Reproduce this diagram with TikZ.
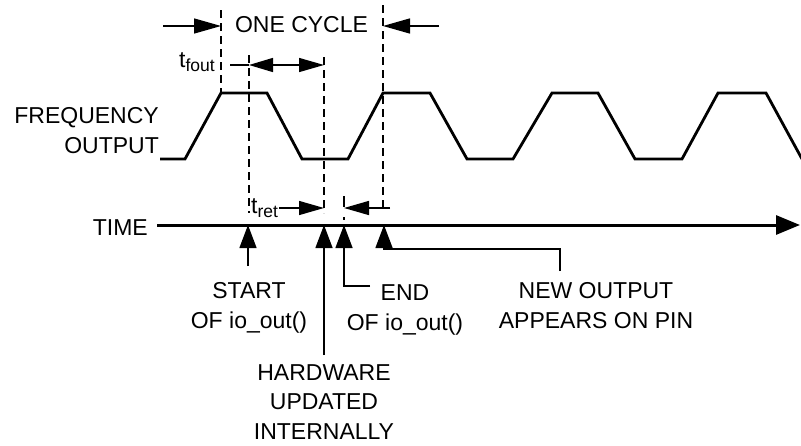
\documentclass[tikz,border=0pt]{standalone}
\usepackage{fontspec}
\setmainfont{Liberation Sans}
\usetikzlibrary{arrows.meta}
\begin{document}
\begin{tikzpicture}[x=1pt,y=-1pt,
  wave/.style={line width=2.8pt, line join=miter},
  axisline/.style={line width=3pt, -{Triangle[length=24pt,width=19pt]}},
  thin/.style={line width=1.4pt},
  dashline/.style={line width=1.3pt, dash pattern=on 8pt off 5pt},
  tipbig/.style={thin, -{Triangle[length=27pt,width=15pt]}},
  tipmid/.style={thin, -{Triangle[length=25pt,width=14pt]}},
  tipup/.style={thin, -{Triangle[length=23pt,width=17pt]}},
  lbl/.style={font=\fontsize{23}{30.5}\selectfont, inner sep=0pt, align=center},
  sub/.style={font=\fontsize{23}{23}\selectfont, inner sep=0pt}]
\useasboundingbox (0,0) rectangle (801,445);

% waveform
\draw[wave] (160,159) -- (185,159) -- (221,93) -- (267,93) -- (302,159) -- (348,159)
  -- (383,93) -- (430,93) -- (467,159) -- (513,159) -- (552,93) -- (598,93)
  -- (635,159) -- (682,159) -- (718,93) -- (766,93) -- (802,159);

% dashed reference lines
\draw[dashline] (221,10) -- (221,93);
\draw[dashline] (249,55) -- (249,213);
\draw[dashline] (324,57) -- (324,213);
\draw[dashline] (383,5) -- (383,208);
\draw[line width=1.3pt, dash pattern=on 11pt off 10pt on 3pt] (344,196) -- (344,222);

% time axis
\node[lbl, anchor=base east] (time) at (148,235) {TIME};
\coordinate (axend) at (800,225);
\draw[axisline] (time.east |- 0,225) ++(9,0) -- (axend);

% axis marks
\coordinate (tStart) at (248,225);
\coordinate (tHw) at (324,225);
\coordinate (tEnd) at (344,225);
\coordinate (tNew) at (384,225);

% labels
\node[lbl, anchor=north east, align=right] (freq) at (159,107) {FREQUENCY\\OUTPUT};
\node[lbl, anchor=base] (cycle) at (301.5,32) {ONE CYCLE};
\node[sub, anchor=base west] (tfout) at (179,67) {t\raisebox{-4pt}{\fontsize{17.5}{17.5}\selectfont fout}};
\node[sub, anchor=base west] (tret) at (251,213) {t\raisebox{-4pt}{\fontsize{17.5}{17.5}\selectfont ret}};

\node[lbl, anchor=north] (start) at (249,282) {START\\OF io\_out()};
\node[lbl, anchor=north, font=\fontsize{23}{29.5}\selectfont] (hw) at (324,364) {HARDWARE\\UPDATED\\INTERNALLY};
\node[lbl, anchor=north] (endl) at (405,284) {END\\OF io\_out()};
\node[lbl, anchor=north] (newout) at (596,282) {NEW OUTPUT\\APPEARS ON PIN};

% one cycle arrows
\coordinate (cycL) at (163,26);
\coordinate (cycR) at (439,26);
\draw[tipbig] (cycL) -- (221,26);
\draw[tipbig] (cycR) -- (383,26);

% t_fout arrows
\coordinate (foutL) at (230,65);
\draw[thin] (foutL) -- (249,65);
\draw[thin, {Triangle[length=24pt,width=14pt]}-{Triangle[length=25pt,width=14pt]}] (249,65) -- (324,65);

% t_ret arrows
\draw[tipmid] (tret.east |- 0,208) ++(1,0) -- (324,208);
\coordinate (retR) at (390,208);
\draw[tipmid] (retR) -- (344,208);

% event arrows
\draw[tipup] ([yshift=16pt]start.north -| tStart) -- (tStart);
\draw[tipup] ([yshift=9pt]hw.north) -- (tHw);
\coordinate (endc) at (370,286);
\draw[tipup] (endc) -| (tEnd);
\coordinate (newc) at (560,271);
\draw[tipup] (newc) |- ([yshift=-24pt]tNew) -- (tNew);
\end{tikzpicture}
\end{document}
